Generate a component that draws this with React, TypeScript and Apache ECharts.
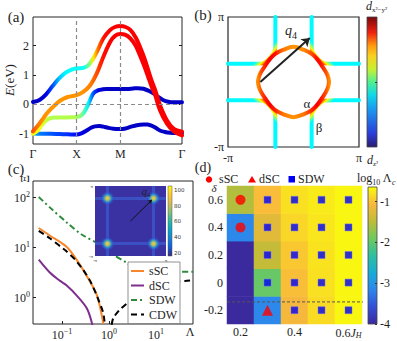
import React, { useEffect, useRef } from 'react';
import * as echarts from 'echarts';

const SERIF = '"Liberation Serif", "DejaVu Serif", serif';
const INK = '#1e1e1e';
const PI = Math.PI;

// ---------- (a) band structure along Γ-X-M-Γ ----------
const kPathTicks = [0, 1, 2, 3.4142];
const kPathLabels = ['Γ', 'X', 'M', 'Γ'];
const energyTicks = [-1, 0, 1, 2];

const bandAk = [0, 0.15, 0.3, 0.45, 0.6, 0.75, 0.9, 1.0, 1.15, 1.27, 1.38, 1.5, 1.61, 1.77, 1.88, 2.0, 2.12, 2.23, 2.35, 2.45, 2.55, 2.64, 2.72, 2.8, 2.91, 3.07, 3.22, 3.414];
const bandAE = [0.08, 0.15, 0.34, 0.62, 0.88, 1.08, 1.19, 1.22, 1.24, 1.33, 1.56, 1.9, 2.24, 2.53, 2.63, 2.66, 2.63, 2.53, 2.28, 1.96, 1.58, 1.16, 0.8, 0.48, -0.03, -0.55, -0.83, -0.93];
const bandAw = [0.07, 0.07, 0.1, 0.2, 0.32, 0.37, 0.38, 0.38, 0.38, 0.48, 0.64, 0.78, 0.86, 0.88, 0.88, 0.88, 0.88, 0.88, 0.88, 0.88, 0.88, 0.88, 0.88, 0.88, 0.88, 0.88, 0.88, 0.88];

const bandBk = [0, 0.1, 0.2, 0.31, 0.4, 0.5, 0.6, 0.7, 0.8, 0.9, 1.0, 1.15, 1.31, 1.46, 1.61, 1.77, 1.88, 2.0, 2.12, 2.23, 2.35, 2.45, 2.55, 2.64, 2.72, 2.8, 2.91, 3.07, 3.22, 3.414];
const bandBE = [-0.92, -0.75, -0.55, -0.32, -0.17, -0.03, 0.1, 0.19, 0.25, 0.28, 0.31, 0.42, 0.65, 1.05, 1.61, 2.13, 2.33, 2.39, 2.36, 2.24, 2.0, 1.67, 1.3, 0.93, 0.6, 0.31, -0.2, -0.66, -0.91, -1.06];
const bandBw = [0.8, 0.76, 0.74, 0.73, 0.73, 0.73, 0.73, 0.73, 0.73, 0.73, 0.73, 0.73, 0.75, 0.8, 0.86, 0.88, 0.88, 0.88, 0.88, 0.88, 0.88, 0.88, 0.88, 0.88, 0.88, 0.88, 0.88, 0.88, 0.88, 0.88];

const bandCk = [0, 0.1, 0.2, 0.3, 0.4, 0.5, 0.7, 0.9, 1.0, 1.1, 1.18, 1.27, 1.38, 1.5, 1.6, 1.69, 1.85, 2.0, 2.15, 2.3, 2.4, 2.53, 2.65, 2.76, 2.88, 2.99, 3.1, 3.22, 3.414];
const bandCE = [-1.0, -0.9, -0.7, -0.55, -0.47, -0.45, -0.45, -0.44, -0.43, -0.38, -0.25, 0.02, 0.37, 0.48, 0.51, 0.52, 0.52, 0.52, 0.52, 0.54, 0.55, 0.53, 0.46, 0.37, 0.24, 0.14, 0.09, 0.07, 0.07];
const bandCw = [0.62, 0.62, 0.6, 0.57, 0.55, 0.55, 0.55, 0.55, 0.54, 0.5, 0.44, 0.36, 0.2, 0.1, 0.07, 0.07, 0.07, 0.07, 0.07, 0.07, 0.07, 0.07, 0.07, 0.07, 0.07, 0.07, 0.07, 0.07, 0.07];

const bandDk = [0, 0.2, 0.4, 0.6, 0.8, 1.0, 1.12, 1.23, 1.33, 1.42, 1.52, 1.61, 1.72, 1.84, 2.0, 2.12, 2.23, 2.38, 2.53, 2.62, 2.7, 2.8, 2.91, 3.02, 3.14, 3.3, 3.414];
const bandDE = [-0.99, -1.0, -1.0, -1.01, -1.02, -1.03, -0.98, -0.89, -0.8, -0.75, -0.74, -0.76, -0.8, -0.83, -0.84, -0.82, -0.77, -0.71, -0.69, -0.69, -0.72, -0.79, -0.89, -0.94, -0.97, -0.98, -0.98];
const bandDw = [0.28, 0.24, 0.21, 0.19, 0.17, 0.13, 0.1, 0.08, 0.07, 0.07, 0.07, 0.07, 0.07, 0.07, 0.07, 0.07, 0.07, 0.07, 0.07, 0.07, 0.07, 0.07, 0.07, 0.07, 0.07, 0.07, 0.07];

// ---------- (b) Fermi surface ----------
const alphaKx = [-1.7, -1.66, -1.55, -1.3, -1.12, -0.87, -0.5, 0, 0.5, 0.87, 1.12, 1.3, 1.55, 1.66, 1.7];
const alphaKyTop = [0, 0.25, 0.49, 0.88, 1.12, 1.36, 1.55, 1.7, 1.55, 1.36, 1.12, 0.88, 0.49, 0.25, 0];
const alphaKyBottom = [0, -0.25, -0.49, -0.88, -1.12, -1.36, -1.55, -1.7, -1.55, -1.36, -1.12, -0.88, -0.49, -0.25, 0];
const alphaWTop = [0.74, 0.76, 0.8, 0.86, 0.88, 0.86, 0.76, 0.73, 0.74, 0.8, 0.87, 0.86, 0.8, 0.76, 0.74];
const alphaWBottom = [0.74, 0.76, 0.8, 0.86, 0.88, 0.84, 0.76, 0.73, 0.76, 0.84, 0.88, 0.86, 0.8, 0.76, 0.74];
// β sheet near the (-π, π) corner; other corners mirror it
const betaKx = [-0.87, -0.87, -0.88, -0.92, -1.02, -1.16, -1.32, -1.5, -1.9, -3.1416];
const betaKy = [3.1416, 2.0, 1.62, 1.45, 1.3, 1.13, 0.98, 0.9, 0.88, 0.88];
const q4Vector = [[-1.59, 0], [0.78, 2.13]];

// ---------- (c) flow of Ξ vs Λ ----------
const sscLambda = [0.032, 0.055, 0.126, 0.204, 0.339, 0.55, 0.76];
const sscXi = [24, 17, 10, 5.6, 2.6, 1.1, 0.29];
const dscLambda = [0.032, 0.055, 0.091, 0.126, 0.204, 0.339, 0.447];
const dscXi = [5.6, 3.1, 2.1, 1.7, 1.08, 0.59, 0.27];
const sdwLambda = [0.032, 0.055, 0.126, 0.257, 0.646, 1.15, 2.4, 3.3, 5.4, 12.3, 25, 68];
const sdwXi = [100, 62, 31, 18, 11, 7.3, 4.8, 3.8, 3.3, 3.2, 3.2, 3.2];
const cdwLambda = [0.032, 0.055, 0.126, 0.19, 0.282, 0.398, 0.55, 0.76, 0.9, 1.05, 1.23, 1.7, 2.4, 3.7, 6.3, 12.3, 21.9, 41.7, 68];
const cdwXi = [21, 15, 8.1, 5.6, 3.5, 2.1, 1.07, 0.47, 0.14, 0.2, 0.38, 0.56, 0.74, 1.05, 1.45, 1.75, 1.97, 2.1, 2.15];
const logTicksX = [-1, 0, 1];
const logTicksY = [0, 1, 2];
// inset susceptibility peaks
const peakKx = [-2.04, 2.04, -2.04, 2.04];
const peakKy = [2.04, 2.04, -2.04, -2.04];
const peakVal = [100, 100, 100, 100];
const insetTicks = [20, 40, 60, 80, 100];

// ---------- (d) phase diagram ----------
const jhCats = ['0.2', '0.3', '0.4', '0.5', '0.6'];
const deltaCats = ['-0.2', '0', '0.2', '0.4', '0.6'];
const logLambdaC = [
  [-4.0, -3.13, -1.08, -0.84, -0.67],
  [-4.0, -1.95, -1.02, -0.81, -0.67],
  [-4.0, -1.45, -0.96, -0.79, -0.67],
  [-3.13, -1.24, -0.87, -0.77, -0.67],
  [-1.55, -1.03, -0.81, -0.74, -0.67],
];
const sscJ = [0.2, 0.2];
const sscDelta = [0.6, 0.4];
const dscJ = [0.3];
const dscDelta = [-0.2];
const sdwJ = [0.3, 0.4, 0.5, 0.6, 0.3, 0.4, 0.5, 0.6, 0.3, 0.4, 0.5, 0.6, 0.3, 0.4, 0.5, 0.6, 0.4, 0.5, 0.6];
const sdwDelta = [0.6, 0.6, 0.6, 0.6, 0.4, 0.4, 0.4, 0.4, 0.2, 0.2, 0.2, 0.2, 0, 0, 0, 0, -0.2, -0.2, -0.2];
const deltaThreshold = -0.14;
const cbTicksD = [-1, -2, -3, -4];

const parulaD = ['#3b2a9e', '#3450d8', '#2e85ec', '#18acd6', '#2fbfa0', '#70c85e', '#c0bc38', '#f9b83c', '#f9fb0e'];
const parulaInset = ['#352a87', '#0f5cdd', '#1481d6', '#06a4ca', '#2eb7a4', '#87bf77', '#d1bb59', '#fec832', '#f9fb0e'];
const jetBar = ['#2c1d6e', '#2b3cd8', '#1a9ef0', '#10d8e8', '#50f090', '#c8f030', '#f8d020', '#ff9a10', '#f02010', '#7a0a0a'];
const jetBarPos = [0, 0.1, 0.3, 0.4, 0.5, 0.6, 0.7, 0.78, 0.88, 1];

function jet(t: number) {
  const c = (v: number) => Math.round(255 * Math.min(1, Math.max(0, v)));
  return `rgb(${c(1.5 - Math.abs(4 * t - 3))},${c(1.5 - Math.abs(4 * t - 2))},${c(1.5 - Math.abs(4 * t - 1))})`;
}
function xGradient(ks: number[], ws: number[]) {
  const a = ks[0], b = ks[ks.length - 1];
  return new echarts.graphic.LinearGradient(0, 0, 1, 0,
    ks.map((k, i) => ({ offset: (k - a) / (b - a), color: jet(ws[i]) })));
}
// diagonal gradient: cyan far from the α pocket, turning yellow/red where β meets α
function betaGrad(x1: number, y1: number, x2: number, y2: number) {
  return new echarts.graphic.LinearGradient(x1, y1, x2, y2, [
    { offset: 0, color: jet(0.37) }, { offset: 0.77, color: jet(0.37) },
    { offset: 0.81, color: jet(0.5) }, { offset: 0.845, color: jet(0.63) },
    { offset: 0.87, color: jet(0.76) }, { offset: 0.9, color: jet(0.87) }, { offset: 1, color: jet(0.87) },
  ]);
}
function vGrad(colors: string[], pos?: number[]) {
  return new echarts.graphic.LinearGradient(0, 1, 0, 0,
    colors.map((c, i) => ({ offset: pos ? pos[i] : i / (colors.length - 1), color: c })));
}

const lbl = (o: any = {}) => ({ show: true, fontSize: 12, fontFamily: SERIF, color: INK, ...o });
const hiddenAxis = (o: any) => ({ show: false, type: 'value', splitLine: { show: false }, axisLine: { show: false, onZero: false }, ...o });
const noLine = { show: false, onZero: false };

function buildOption() {
  const series: any[] = [];
  const add = (s: any) => { series.push({ silent: true, animation: false, ...s }); return series.length - 1; };

  // (a)
  const band = (ks: number[], es: number[], ws: number[], extra: any = {}) => add({
    type: 'line', xAxisIndex: 0, yAxisIndex: 0, data: ks.map((k, i) => [k, es[i]]),
    symbol: 'none', smooth: 0.35, z: 3,
    lineStyle: { width: 4, color: xGradient(ks, ws), cap: 'round' }, ...extra,
  });
  band(bandDk, bandDE, bandDw, {
    markLine: {
      silent: true, symbol: 'none', label: { show: false }, z: 5,
      lineStyle: { color: '#8a8a8a', type: [4, 3], width: 1.2 },
      data: [{ xAxis: 1 }, { xAxis: 2 }, { yAxis: 0 }],
    },
  });
  band(bandCk, bandCE, bandCw);
  band(bandAk, bandAE, bandAw);
  band(bandBk, bandBE, bandBw);

  // (b)
  const corners = [
    [1, 1, [0, 0, 1, 1]], [-1, 1, [1, 0, 0, 1]], [1, -1, [0, 1, 1, 0]], [-1, -1, [1, 1, 0, 0]],
  ] as [number, number, number[]][];
  corners.forEach(([sx, sy, g]) => add({
    type: 'line', xAxisIndex: 1, yAxisIndex: 2, symbol: 'none', smooth: 0.3, z: 3,
    data: betaKx.map((x, i) => [sx * x, sy * betaKy[i]]),
    lineStyle: { width: 4, color: betaGrad(g[0], g[1], g[2], g[3]), cap: 'round' },
  }));
  add({
    type: 'line', xAxisIndex: 1, yAxisIndex: 2, symbol: 'none', smooth: 0.4, z: 4,
    data: alphaKx.map((x, i) => [x, alphaKyTop[i]]),
    lineStyle: { width: 4, color: xGradient(alphaKx, alphaWTop), cap: 'round' },
  });
  add({
    type: 'line', xAxisIndex: 1, yAxisIndex: 2, symbol: 'none', smooth: 0.4, z: 4,
    data: alphaKx.map((x, i) => [x, alphaKyBottom[i]]),
    lineStyle: { width: 4, color: xGradient(alphaKx, alphaWBottom), cap: 'round' },
  });
  add({
    type: 'lines', coordinateSystem: 'cartesian2d', xAxisIndex: 1, yAxisIndex: 2, z: 6,
    symbol: ['none', 'arrow'], symbolSize: 8,
    lineStyle: { color: '#222', width: 2, opacity: 1, curveness: 0 },
    data: [{ coords: q4Vector }],
  });

  // (c)
  const lg = (v: number) => Math.log10(v);
  add({ name: 'sSC', type: 'line', xAxisIndex: 3, yAxisIndex: 4, symbol: 'none', smooth: 0.3, z: 2,
    data: sscLambda.map((l, i) => [lg(l), lg(sscXi[i])]), itemStyle: { color: '#f7862a' },
    lineStyle: { width: 2, color: '#f7862a' } });
  add({ name: 'dSC', type: 'line', xAxisIndex: 3, yAxisIndex: 4, symbol: 'none', smooth: 0.3, z: 2,
    data: dscLambda.map((l, i) => [lg(l), lg(dscXi[i])]), itemStyle: { color: '#7e2f8e' },
    lineStyle: { width: 2, color: '#7e2f8e' } });
  add({ name: 'SDW', type: 'line', xAxisIndex: 3, yAxisIndex: 4, symbol: 'none', smooth: 0.3, z: 2,
    data: sdwLambda.map((l, i) => [lg(l), lg(sdwXi[i])]), itemStyle: { color: '#2e8b3c' },
    lineStyle: { width: 2, color: '#2e8b3c', type: [6, 3, 2, 3] } });
  add({ name: 'CDW', type: 'line', xAxisIndex: 3, yAxisIndex: 4, symbol: 'none', smooth: 0.15, z: 2,
    data: cdwLambda.map((l, i) => [lg(l), lg(cdwXi[i])]), itemStyle: { color: '#000' },
    lineStyle: { width: 2, color: '#000', type: [6, 4] } });
  // inset
  add({
    type: 'lines', coordinateSystem: 'cartesian2d', xAxisIndex: 4, yAxisIndex: 5, z: 6,
    lineStyle: { color: 'rgba(60,120,235,0.45)', width: 3, opacity: 1 },
    data: [
      { coords: [[-PI, peakKy[0]], [PI, peakKy[0]]] }, { coords: [[-PI, peakKy[2]], [PI, peakKy[2]]] },
      { coords: [[peakKx[0], -PI], [peakKx[0], PI]] }, { coords: [[peakKx[1], -PI], [peakKx[1], PI]] },
    ],
  });
  add({
    type: 'scatter', xAxisIndex: 4, yAxisIndex: 5, z: 7, symbol: 'circle', symbolSize: 15,
    data: peakKx.map((x, i) => [x, peakKy[i], peakVal[i]]),
    itemStyle: {
      color: new echarts.graphic.RadialGradient(0.5, 0.5, 0.5, [
        { offset: 0, color: '#fafa20' }, { offset: 0.25, color: '#e8d040' },
        { offset: 0.45, color: '#30b8c8' }, { offset: 0.7, color: 'rgba(40,110,225,0.6)' },
        { offset: 1, color: 'rgba(60,50,170,0)' },
      ]),
    },
  });
  add({
    type: 'lines', coordinateSystem: 'cartesian2d', xAxisIndex: 4, yAxisIndex: 5, z: 8,
    symbol: ['none', 'arrow'], symbolSize: 4,
    lineStyle: { color: '#111', width: 1, opacity: 1 },
    data: [{ coords: [[0, 0], [1.9, 1.9]] }],
  });

  // (d)
  const heatData: number[][] = [];
  deltaCats.forEach((_, r) => jhCats.forEach((_, c) => heatData.push([c, r, logLambdaC[r][c]])));
  const heatIdx = add({ type: 'heatmap', xAxisIndex: 6, yAxisIndex: 7, data: heatData, z: 2,
    itemStyle: { borderWidth: 0 } });
  add({ name: 'sSC_d', type: 'scatter', xAxisIndex: 7, yAxisIndex: 8, z: 4, symbol: 'circle', symbolSize: 10,
    data: sscJ.map((j, i) => [j, sscDelta[i]]), itemStyle: { color: '#ff0000' } });
  add({ name: 'dSC_d', type: 'scatter', xAxisIndex: 7, yAxisIndex: 8, z: 4, symbol: 'triangle', symbolSize: 11,
    data: dscJ.map((j, i) => [j, dscDelta[i]]), itemStyle: { color: '#ff0000' } });
  add({ name: 'SDW_d', type: 'scatter', xAxisIndex: 7, yAxisIndex: 8, z: 4, symbol: 'rect', symbolSize: 7,
    data: sdwJ.map((j, i) => [j, sdwDelta[i]]), itemStyle: { color: '#0000f5', borderColor: 'rgba(110,110,255,0.7)', borderWidth: 0.8 } });
  add({ type: 'line', xAxisIndex: 7, yAxisIndex: 8, z: 5, symbol: 'none', clip: false,
    data: [[0.15, deltaThreshold], [0.67, deltaThreshold]],
    lineStyle: { color: '#555', width: 1, type: [3, 2] } });

  const supRich = {
    b: { fontSize: 12, fontFamily: SERIF, color: INK, verticalAlign: 'bottom' },
    s: { fontSize: 8, fontFamily: SERIF, color: INK, verticalAlign: 'bottom', padding: [0, 0, 6, 0] },
  };
  const pow10 = (v: number) => `{b|10}{s|${v < 0 ? '−' : ''}${Math.abs(Math.round(v))}}`;

  const xAxis = [
    { gridIndex: 0, type: 'value', min: 0, max: 2 + Math.SQRT2, splitLine: { show: false }, axisLine: noLine,
      axisTick: { show: false },
      axisLabel: lbl({ customValues: kPathTicks, margin: 4,
        formatter: (v: number) => kPathLabels[kPathTicks.findIndex((t) => Math.abs(t - v) < 1e-3)] ?? '' }) },
    { gridIndex: 1, type: 'value', min: -PI, max: PI, splitLine: { show: false }, axisLine: noLine,
      axisTick: { show: false },
      axisLabel: lbl({ customValues: [-PI, PI], margin: 5, formatter: (v: number) => (v < 0 ? '-π' : 'π') }) },
    hiddenAxis({ gridIndex: 2, min: 0, max: 1 }),
    { gridIndex: 3, type: 'value', min: -1.617, max: 1.787, splitLine: { show: false }, axisLine: noLine,
      axisTick: { show: true, inside: true, length: 3, customValues: logTicksX, lineStyle: { color: INK } },
      axisLabel: lbl({ customValues: logTicksX, margin: 3, formatter: pow10, rich: supRich }) },
    { gridIndex: 4, type: 'value', min: -PI, max: PI, splitLine: { show: false }, axisLine: noLine,
      axisTick: { show: false },
      axisLabel: lbl({ fontSize: 5, customValues: [-PI, PI], margin: 2, color: '#444', formatter: (v: number) => (v < 0 ? '-π' : 'π') }) },
    hiddenAxis({ gridIndex: 5, min: 0, max: 1 }),
    { gridIndex: 6, type: 'category', data: jhCats, splitLine: { show: false }, axisLine: noLine,
      axisTick: { show: false },
      axisLabel: lbl({ interval: 0, margin: 2,
        formatter: (v: string, i: number) => (i === 4 ? `${v}{i|J}{h|H}` : i % 2 === 0 ? v : ''),
        rich: {
          i: { fontSize: 12, fontFamily: SERIF, fontStyle: 'italic', color: INK },
          h: { fontSize: 8, fontFamily: SERIF, fontStyle: 'italic', color: INK, padding: [5, 0, 0, 0] },
        } }) },
    hiddenAxis({ gridIndex: 6, min: 0.15, max: 0.65 }),
    hiddenAxis({ gridIndex: 7, min: 0, max: 1 }),
  ];

  const yAxis = [
    { gridIndex: 0, type: 'value', min: -1.35, max: 2.97, splitLine: { show: false }, axisLine: noLine,
      axisTick: { show: true, inside: true, length: 3, customValues: energyTicks, lineStyle: { color: INK } },
      axisLabel: lbl({ customValues: energyTicks, margin: 4 }) },
    { gridIndex: 0, type: 'value', position: 'right', min: -1.35, max: 2.97, splitLine: { show: false },
      axisLine: noLine, axisLabel: { show: false },
      axisTick: { show: true, inside: true, length: 3, customValues: energyTicks, lineStyle: { color: INK } } },
    { gridIndex: 1, type: 'value', min: -PI, max: PI, splitLine: { show: false }, axisLine: noLine,
      axisTick: { show: false },
      axisLabel: lbl({ customValues: [-PI, PI], margin: 4, formatter: (v: number) => (v < 0 ? '-π' : 'π') }) },
    { gridIndex: 2, type: 'value', position: 'right', min: 0, max: 1, splitLine: { show: false },
      axisLine: noLine, axisLabel: { show: false },
      axisTick: { show: true, inside: true, length: 2, customValues: [0.5], lineStyle: { color: '#333' } } },
    { gridIndex: 3, type: 'value', min: -0.54, max: 2.32, splitLine: { show: false }, axisLine: noLine,
      axisTick: { show: true, inside: true, length: 3, customValues: logTicksY, lineStyle: { color: INK } },
      axisLabel: lbl({ customValues: logTicksY, margin: 3, formatter: pow10, rich: supRich }) },
    { gridIndex: 4, type: 'value', min: -PI, max: PI, splitLine: { show: false }, axisLine: noLine,
      axisTick: { show: false },
      axisLabel: lbl({ fontSize: 5, customValues: [-PI, PI], margin: 2, color: '#444', formatter: (v: number) => (v < 0 ? '-π' : 'π') }) },
    { gridIndex: 5, type: 'value', position: 'right', min: 16, max: 105, splitLine: { show: false },
      axisLine: noLine,
      axisTick: { show: true, inside: true, length: 1.5, customValues: insetTicks, lineStyle: { color: '#333', width: 0.5 } },
      axisLabel: lbl({ fontSize: 5.5, customValues: insetTicks, margin: 2, fontFamily: 'DejaVu Sans', color: '#333' }) },
    { gridIndex: 6, type: 'category', data: deltaCats, splitLine: { show: false }, axisLine: noLine,
      axisTick: { show: false }, axisLabel: lbl({ interval: 0, margin: 4 }) },
    hiddenAxis({ gridIndex: 6, min: -0.3, max: 0.7 }),
    { gridIndex: 7, type: 'value', position: 'right', min: -4, max: -0.64, splitLine: { show: false },
      axisLine: noLine,
      axisTick: { show: true, inside: true, length: 2, customValues: cbTicksD, lineStyle: { color: '#333' } },
      axisLabel: lbl({ customValues: cbTicksD, margin: 3 }) },
  ];

  const grid = [
    { left: 33, top: 17, width: 149, height: 127, show: true, borderColor: '#262626', borderWidth: 1, backgroundColor: 'transparent' },
    { left: 228, top: 17, width: 131, height: 130, show: true, borderColor: '#262626', borderWidth: 1.2, backgroundColor: 'transparent' },
    { left: 367, top: 17, width: 10, height: 130, show: true, borderColor: '#444', borderWidth: 0.8,
      backgroundColor: vGrad(jetBar, jetBarPos) },
    { left: 33, top: 181, width: 160, height: 147, show: true, borderColor: '#262626', borderWidth: 1, backgroundColor: 'transparent' },
    { left: 95, top: 186, width: 71, height: 70, show: true, z: 3, borderWidth: 0, backgroundColor: '#3a31a2' },
    { left: 168, top: 186, width: 4, height: 70, show: true, z: 3, borderColor: '#555', borderWidth: 0.5, backgroundColor: vGrad(parulaInset) },
    { left: 227, top: 186, width: 135, height: 138, show: false },
    { left: 368, top: 187, width: 9, height: 137, show: true, borderColor: '#444', borderWidth: 0.8, backgroundColor: vGrad(parulaD) },
  ];

  const txt = (x: number, y: number, text: string, o: any = {}, el: any = {}) => ({
    type: 'text', x, y, z: 100, silent: true, ...el,
    style: { text, fontSize: 12, fontFamily: SERIF, fill: INK, align: 'center', verticalAlign: 'middle', ...o },
  });
  const subRich = (big: number, small: number, italicBase = true) => ({
    a: { fontSize: big, fontFamily: SERIF, fill: INK, fontStyle: italicBase ? 'italic' : 'normal', verticalAlign: 'top', lineHeight: big + 2 },
    n: { fontSize: big, fontFamily: SERIF, fill: INK, verticalAlign: 'top', lineHeight: big + 2 },
    s: { fontSize: small, fontFamily: SERIF, fill: INK, verticalAlign: 'top', padding: [Math.round(big * 0.5), 0, 0, 0], lineHeight: small + 1 },
    si: { fontSize: small, fontFamily: SERIF, fill: INK, fontStyle: 'italic', verticalAlign: 'top', padding: [Math.round(big * 0.5), 0, 0, 0], lineHeight: small + 1 },
  });

  const graphic = [
    txt(16, 17, '(a)', { fontSize: 15 }),
    txt(203, 15, '(b)', { fontSize: 15 }),
    txt(16, 169, '(c)', { fontSize: 15 }),
    txt(203, 167, '(d)', { fontSize: 14 }),
    txt(10, 80, '{a|E}{n|(eV)}', { rich: subRich(13, 8) }, { rotation: PI / 2 }),
    txt(25, 179, 'Ξ', { fontSize: 12 }, { rotation: PI / 2 }),
    txt(190, 332, 'Λ', { fontSize: 12 }),
    txt(291, 31, '{a|q}{s|4}', { rich: subRich(14, 10) }),
    txt(307, 103, 'α', { fontSize: 13 }),
    txt(319, 127, 'β', { fontSize: 13 }),
    txt(366, 7, '{a|d}{s|x²−y²}', { align: 'left', rich: subRich(12, 7) }),
    txt(367, 161, '{a|d}{s|z²}', { align: 'left', rich: subRich(12, 7) }),
    txt(146, 192, '{a|q}{s|4}', { rich: subRich(10, 7) }),
    txt(214, 187.5, 'δ', { fontSize: 11, fontStyle: 'italic' }),
    { type: 'circle', z: 100, silent: true, shape: { cx: 209, cy: 179.5, r: 3.2 }, style: { fill: '#ff0000' } },
    txt(219, 179, 'sSC', { align: 'left' }),
    { type: 'polygon', z: 100, silent: true, shape: { points: [[252, 176], [256, 182.5], [248, 182.5]] }, style: { fill: '#ff0000' } },
    txt(259, 179, 'dSC', { align: 'left' }),
    { type: 'rect', z: 100, silent: true, shape: { x: 288.5, y: 176, width: 6.5, height: 6.5 }, style: { fill: '#0000f5' } },
    txt(298, 179, 'SDW', { align: 'left' }),
    txt(357, 179, '{n|log}{s|10}{n| Λ}{si|c}', { align: 'left', rich: subRich(12, 8, false) }),
  ];

  return {
    animation: false,
    backgroundColor: '#ffffff',
    textStyle: { fontFamily: SERIF },
    grid,
    xAxis,
    yAxis,
    visualMap: [{ type: 'continuous', show: false, min: -4, max: -0.64, dimension: 2, seriesIndex: heatIdx,
      inRange: { color: parulaD } }],
    legend: [{
      show: true, data: ['sSC', 'dSC', 'SDW', 'CDW'], orient: 'vertical', left: 128, top: 262,
      itemWidth: 13, itemHeight: 8, itemGap: 0.5, padding: [2, 3, 2, 2], selectedMode: false,
      backgroundColor: '#ffffff', borderColor: '#777', borderWidth: 0.8, z: 10,
      itemStyle: { color: 'transparent', borderColor: 'transparent', borderWidth: 0, opacity: 0 },
      textStyle: { fontSize: 12, fontFamily: SERIF, color: INK, lineHeight: 14 },
    }],
    graphic,
    series,
  };
}

export default function App() {
  const ref = useRef<HTMLDivElement>(null);
  useEffect(() => {
    const chart = echarts.init(ref.current!, null, { renderer: 'svg' });
    chart.setOption(buildOption() as any);
    return () => chart.dispose();
  }, []);
  return <div ref={ref} style={{ position: 'absolute', left: 0, top: 0, width: 397, height: 341 }} />;
}
